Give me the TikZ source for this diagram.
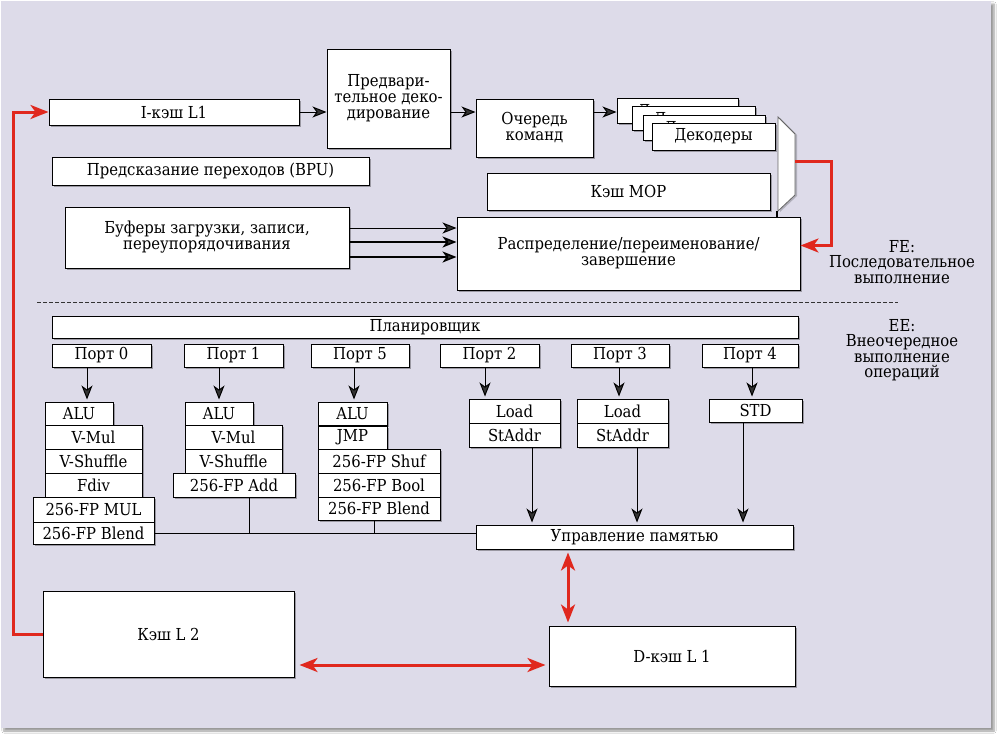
\documentclass[tikz,border=0pt]{standalone}
\usepackage{fontspec}
\setmainfont{DejaVu Serif}[FakeStretch=0.9]
\usetikzlibrary{arrows.meta,shadows,shadows.blur}
\definecolor{panel}{HTML}{DDDBE9}
\definecolor{redl}{HTML}{E0281E}
\newcommand\bx[6]{\node[box,minimum width={(#4-#2)*1pt},minimum height={(#5-#3)*1pt}] (#1) at ({(#2+#4)/2},{(#3+#5)/2}) {#6};}
\newcommand\hid[1]{\raisebox{-6pt}[0pt][0pt]{#1}}
\begin{document}
\begin{tikzpicture}[x=1pt,y=-1pt,
  box/.style={draw=black,line width=1pt,fill=white,inner sep=0pt,align=center,
    font=\fontsize{16.5}{16}\selectfont,
    drop shadow={shadow xshift=2pt,shadow yshift=-2pt,opacity=0.3,fill=black}},
  lbl/.style={align=center,font=\fontsize{16.5}{15.5}\selectfont,inner sep=0pt},
  arr/.style={-{Stealth[length=14pt,width=11pt,inset=4pt]},line width=1pt},
  redarr/.style={-{Stealth[length=18pt,width=14pt,inset=5pt]},draw=redl,line width=3pt},
  redboth/.style={{Stealth[length=18pt,width=14pt,inset=5pt]}-{Stealth[length=18pt,width=14pt,inset=5pt]},draw=redl,line width=3pt}]
\useasboundingbox (0,0) rectangle (1000,736);
\fill[white] (0,0) rectangle (1000,736);
\fill[panel,blur shadow={shadow xshift=3pt,shadow yshift=-3pt,shadow blur steps=6}] (1,1) rectangle (991,728);

% front end
\bx{ic}{49}{99}{299}{125}{I-кэш L1}
\bx{pre}{327}{49}{450}{148}{Предвари-\\тельное деко-\\дирование}
\bx{q}{476}{99}{593}{157}{Очередь\\команд}
\bx{d1}{617}{98}{738}{123}{\hid{Декодеры}}
\bx{d2}{632}{106}{755}{130}{\hid{Декодеры}}
\bx{d3}{643}{115}{765}{140}{\hid{Декодеры}}
\bx{d4}{652}{123}{775}{150}{Декодеры}
\bx{bpu}{52}{157}{369}{185}{Предсказание переходов (BPU)}
\bx{mop}{487}{173}{770}{210}{Кэш MOP}
\bx{buf}{65}{207}{349}{268}{Буферы загрузки, записи,\\переупорядочивания}
\bx{disp}{457}{217}{800}{290}{Распределение/переименование/\\завершение}

% mux
\filldraw[fill=white,draw=black!60,line width=0.8pt,
  drop shadow={shadow xshift=2pt,shadow yshift=-1pt,opacity=0.2,fill=black}]
  (778,117) -- (795,134) -- (795,195) -- (778,211) -- cycle;
\coordinate (muxr) at (795,161);
\coordinate (muxb) at (777,211);
\coordinate (rk) at (831,161);

\node[lbl] (fe) at (902,262) {FE:\\Последовательное\\выполнение};

\draw[dashed,dash pattern=on 4pt off 2pt,line width=0.8pt,black!80] (37,302) -- (898,302);

% execution engine
\bx{sch}{52}{316}{798}{338}{Планировщик}
\bx{p0}{52}{344}{151}{367}{Порт 0}
\bx{p1}{184}{344}{283}{367}{Порт 1}
\bx{p5}{311}{344}{409}{367}{Порт 5}
\bx{p2}{440}{344}{539}{367}{Порт 2}
\bx{p3}{571}{344}{669}{367}{Порт 3}
\bx{p4}{702}{344}{798}{367}{Порт 4}
\node[lbl] (ee) at (902,350) {EE:\\Внеочередное\\выполнение\\операций};

\bx{a0}{45}{402}{113}{425}{ALU}
\bx{vm0}{45}{425}{142}{449}{V-Mul}
\bx{vs0}{45}{449}{142}{473}{V-Shuffle}
\bx{fd0}{45}{473}{142}{497}{Fdiv}
\bx{fm0}{33}{497}{154}{522}{256-FP MUL}
\bx{fb0}{33}{522}{154}{544}{256-FP Blend}

\bx{a1}{185}{402}{253}{425}{ALU}
\bx{vm1}{185}{425}{282}{449}{V-Mul}
\bx{vs1}{185}{449}{282}{473}{V-Shuffle}
\bx{fa1}{173}{473}{295}{497}{256-FP Add}

\bx{a5}{318}{402}{387}{425}{ALU}
\bx{j5}{318}{426}{387}{449}{JMP}
\bx{fs5}{318}{449}{440}{473}{256-FP Shuf}
\bx{fo5}{318}{473}{440}{497}{256-FP Bool}
\bx{fb5}{318}{497}{440}{520}{256-FP Blend}

\bx{ld2}{469}{399}{560}{423}{Load}
\bx{sa2}{469}{423}{560}{447}{StAddr}
\bx{ld3}{577}{399}{668}{423}{Load}
\bx{sa3}{577}{423}{668}{447}{StAddr}
\bx{std}{709}{399}{802}{422}{STD}

\bx{mem}{476}{525}{793}{549}{Управление памятью}
\bx{l2}{43}{591}{294}{677}{Кэш L 2}
\bx{dc}{549}{626}{795}{686}{D-кэш L 1}

% connectors, front end
\draw[arr] (ic.east) -- (ic.east -| pre.west);
\draw[arr] (pre.east |- ic.east) -- (q.west |- ic.east);
\draw[arr] (q.east |- ic.east) -- (d1.west |- ic.east);
\draw[arr] (buf.east |- 0,228) -- (disp.west |- 0,228);
\draw[arr,line width=1.6pt] (buf.east |- 0,242) -- (disp.west |- 0,242);
\draw[arr,line width=1.6pt] (buf.east |- 0,257) -- (disp.west |- 0,257);
\draw[line width=1.2pt] (muxb) -- (muxb |- disp.north);
\draw[redarr] (muxr) -- (rk) |- ([yshift=8pt]disp.east);
\coordinate (rl) at (13,634);
\draw[redarr] (l2.west) -- (rl) |- (ic.west);

% ports to units
\draw[arr,shorten >=2pt] (p0.south -| 87,0) -- (a0.north -| 87,0);
\draw[arr,shorten >=2pt] (p1.south -| 219,0) -- (a1.north -| 219,0);
\draw[arr,shorten >=2pt] (p5.south -| 354,0) -- (a5.north -| 354,0);
\draw[arr,shorten >=2pt] (p2.south -| 485,0) -- (ld2.north -| 485,0);
\draw[arr,shorten >=2pt] (p3.south -| 619,0) -- (ld3.north -| 619,0);
\draw[arr,shorten >=2pt] (p4.south -| 752,0) -- (std.north -| 752,0);

% units to memory control
\draw[arr,shorten >=2pt] (sa2.south -| 532,0) -- (mem.north -| 532,0);
\draw[arr,shorten >=2pt] (sa3.south -| 637,0) -- (mem.north -| 637,0);
\draw[arr,shorten >=2pt] (std.south -| 743,0) -- (mem.north -| 743,0);
\draw[line width=0.8pt] (fb0.east) -- (fb0.east -| mem.west);
\draw[line width=0.8pt] (fa1.south -| 249,0) -- (fb0.east -| 249,0);
\draw[line width=0.8pt] (fb5.south -| 374,0) -- (fb0.east -| 374,0);

% caches
\coordinate (vx) at (568,600);
\draw[redboth,shorten <=3pt,shorten >=3pt] (vx |- mem.south) -- (vx |- dc.north);
\draw[redboth,shorten <=5pt,shorten >=3pt] (l2.east |- 0,665) -- (dc.west |- 0,665);
\end{tikzpicture}
\end{document}
